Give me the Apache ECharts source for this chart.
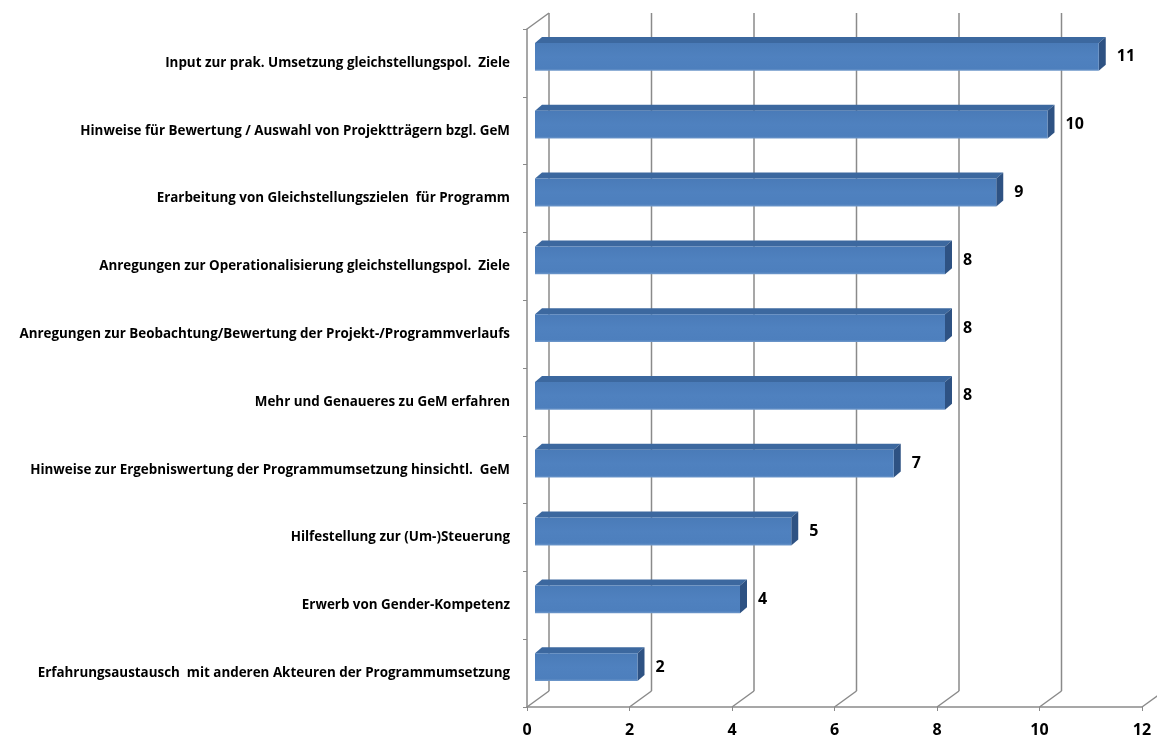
<!DOCTYPE html>
<html><head><meta charset="utf-8">
<script src="https://cdn.jsdelivr.net/npm/echarts@6/dist/echarts.min.js"></script>
<style>html,body{margin:0;padding:0;background:#fff}#c{width:1157px;height:740px}</style>
</head><body><div id="c"></div>
<script>
const categories = [
  'Input zur prak. Umsetzung gleichstellungspol.  Ziele',
  'Hinweise für Bewertung / Auswahl von Projektträgern bzgl. GeM',
  'Erarbeitung von Gleichstellungszielen  für Programm',
  'Anregungen zur Operationalisierung gleichstellungspol.  Ziele',
  'Anregungen zur Beobachtung/Bewertung der Projekt-/Programmverlaufs',
  'Mehr und Genaueres zu GeM erfahren',
  'Hinweise zur Ergebniswertung der Programmumsetzung hinsichtl.  GeM',
  'Hilfestellung zur (Um-)Steuerung',
  'Erwerb von Gender-Kompetenz',
  'Erfahrungsaustausch  mit anderen Akteuren der Programmumsetzung'
];
const values = [11, 10, 9, 8, 8, 8, 7, 5, 4, 2];
const xTicks = [0, 2, 4, 6, 8, 10, 12];

const WALL_DX = 22, WALL_DY = -16;
const BAR_SHIFT_X = 8, BAR_SHIFT_Y = -6, BAR_DX = 7, BAR_DY = -6, BAR_RATIO = 0.41;
const LINE_COLOR = '#8a8a8a';
const FONT = '"Open Sans", "Noto Sans", sans-serif';

const chart = echarts.init(document.getElementById('c'), null, {renderer: 'canvas'});

function renderWall(params, api) {
  const v = api.value(0);
  const cs = params.coordSys;
  const x = api.coord([v, 0])[0];
  const top = cs.y, bot = cs.y + cs.height;
  const st = {stroke: LINE_COLOR, lineWidth: 1.5};
  const children = [
    {type: 'line', shape: {x1: x, y1: bot, x2: x + WALL_DX, y2: bot + WALL_DY}, style: st},
    {type: 'line', shape: {x1: x + WALL_DX, y1: bot + WALL_DY, x2: x + WALL_DX, y2: top + WALL_DY}, style: st}
  ];
  if (v === xTicks[0]) {
    children.push({type: 'line', shape: {x1: x, y1: top, x2: x + WALL_DX, y2: top + WALL_DY}, style: st});
  }
  return {type: 'group', children};
}

function renderBar(params, api) {
  const v = api.value(0), ci = api.value(1);
  const p0 = api.coord([0, ci]), p1 = api.coord([v, ci]);
  const band = api.size([0, 1])[1];
  const h = band * BAR_RATIO;
  const x0 = p0[0] + BAR_SHIFT_X, x1 = p1[0] + BAR_SHIFT_X;
  const yc = p0[1] + BAR_SHIFT_Y;
  const yt = yc - h / 2, yb = yc + h / 2;
  return {type: 'group', children: [
    {type: 'polygon', shape: {points: [[x0, yt], [x0 + BAR_DX, yt + BAR_DY], [x1 + BAR_DX, yt + BAR_DY], [x1, yt]]},
      style: {fill: '#3c689f'}},
    {type: 'polygon', shape: {points: [[x1, yt], [x1 + BAR_DX, yt + BAR_DY], [x1 + BAR_DX, yb + BAR_DY], [x1, yb]]},
      style: {fill: '#2e5283'}},
    {type: 'rect', shape: {x: x0, y: yt, width: x1 - x0, height: h},
      style: {fill: new echarts.graphic.LinearGradient(0, 0, 0, 1, [
        {offset: 0, color: '#4a7bb8'}, {offset: 0.5, color: '#4f81bf'}, {offset: 0.92, color: '#4d7fbd'}, {offset: 1, color: '#7099cb'}
      ])}},
    {type: 'text', style: {text: String(v), x: x1 + BAR_DX + 11, y: yc, verticalAlign: 'middle', align: 'left',
      font: 'bold 16px ' + FONT, fill: '#000'}}
  ]};
}

chart.setOption({
  animation: false,
  grid: {left: 527, right: 15, top: 29, bottom: 33, containLabel: false},
  xAxis: {
    type: 'value', min: 0, max: 12, interval: 2,
    axisLine: {show: true, lineStyle: {color: LINE_COLOR, width: 1.5}},
    axisTick: {show: true, length: 4, lineStyle: {color: LINE_COLOR}},
    splitLine: {show: false},
    axisLabel: {color: '#000', fontWeight: 'bold', fontSize: 16, fontFamily: FONT, margin: 15}
  },
  yAxis: {
    type: 'category', data: categories, inverse: true,
    axisLine: {show: true, lineStyle: {color: LINE_COLOR, width: 1.5}},
    axisTick: {show: true, length: 4, lineStyle: {color: LINE_COLOR}},
    axisLabel: {color: '#000', fontWeight: 'bold', fontSize: 13.4, fontFamily: FONT, margin: 17}
  },
  series: [
    {type: 'custom', name: 'wall', renderItem: renderWall, clip: false, z: 1, silent: true,
      data: xTicks.map(v => [v, 0])},
    {type: 'custom', name: 'bars', renderItem: renderBar, clip: false, z: 2,
      encode: {x: 0, y: 1},
      data: values.map((v, i) => [v, i])}
  ]
});
</script>
</body></html>
